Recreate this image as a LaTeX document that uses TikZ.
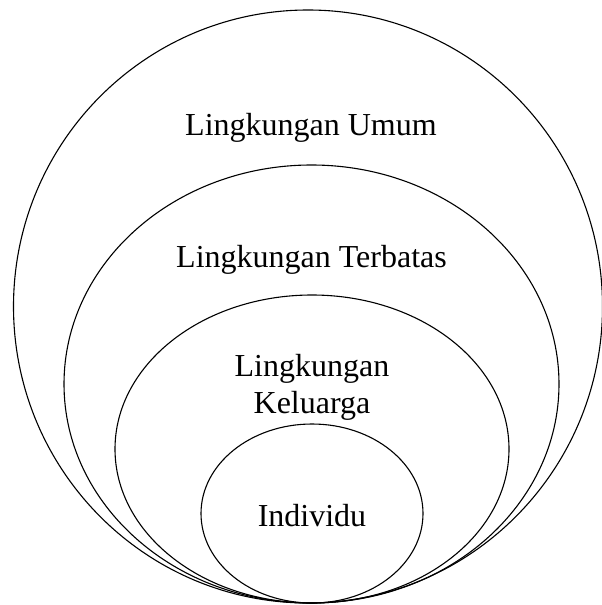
\documentclass[tikz,border=0pt]{standalone}
\usepackage{fontspec}
\setmainfont{Liberation Serif}
\usepackage{tikz}

\begin{document}
\begin{tikzpicture}[x=1pt,y=-1pt]
\tikzstyle{every node}+=[inner sep=0pt]
\tikzstyle{ring}=[black,line width=1.1pt]
\tikzstyle{lbl}=[font=\fontsize{32}{37}\selectfont,align=center]
\useasboundingbox (0,0) rectangle (602,605);
\draw [ring] (308,306.5) ellipse [x radius=294.5, y radius=296.5];
\draw [ring] (311.5,384) ellipse [x radius=247.5, y radius=219];
\draw [ring] (312,449) ellipse [x radius=197, y radius=154];
\draw [ring] (312,513.5) ellipse [x radius=111, y radius=89.5];
\node [lbl,anchor=base] (umum) at (311,135) {Lingkungan Umum};
\node [lbl,anchor=base] (terbatas) at (311.5,267) {Lingkungan Terbatas};
\node [lbl,anchor=base] (keluarga) at (312,413) {Lingkungan\\Keluarga};
\node [lbl,anchor=base] (individu) at (312,526) {Individu};
\end{tikzpicture}
\end{document}
